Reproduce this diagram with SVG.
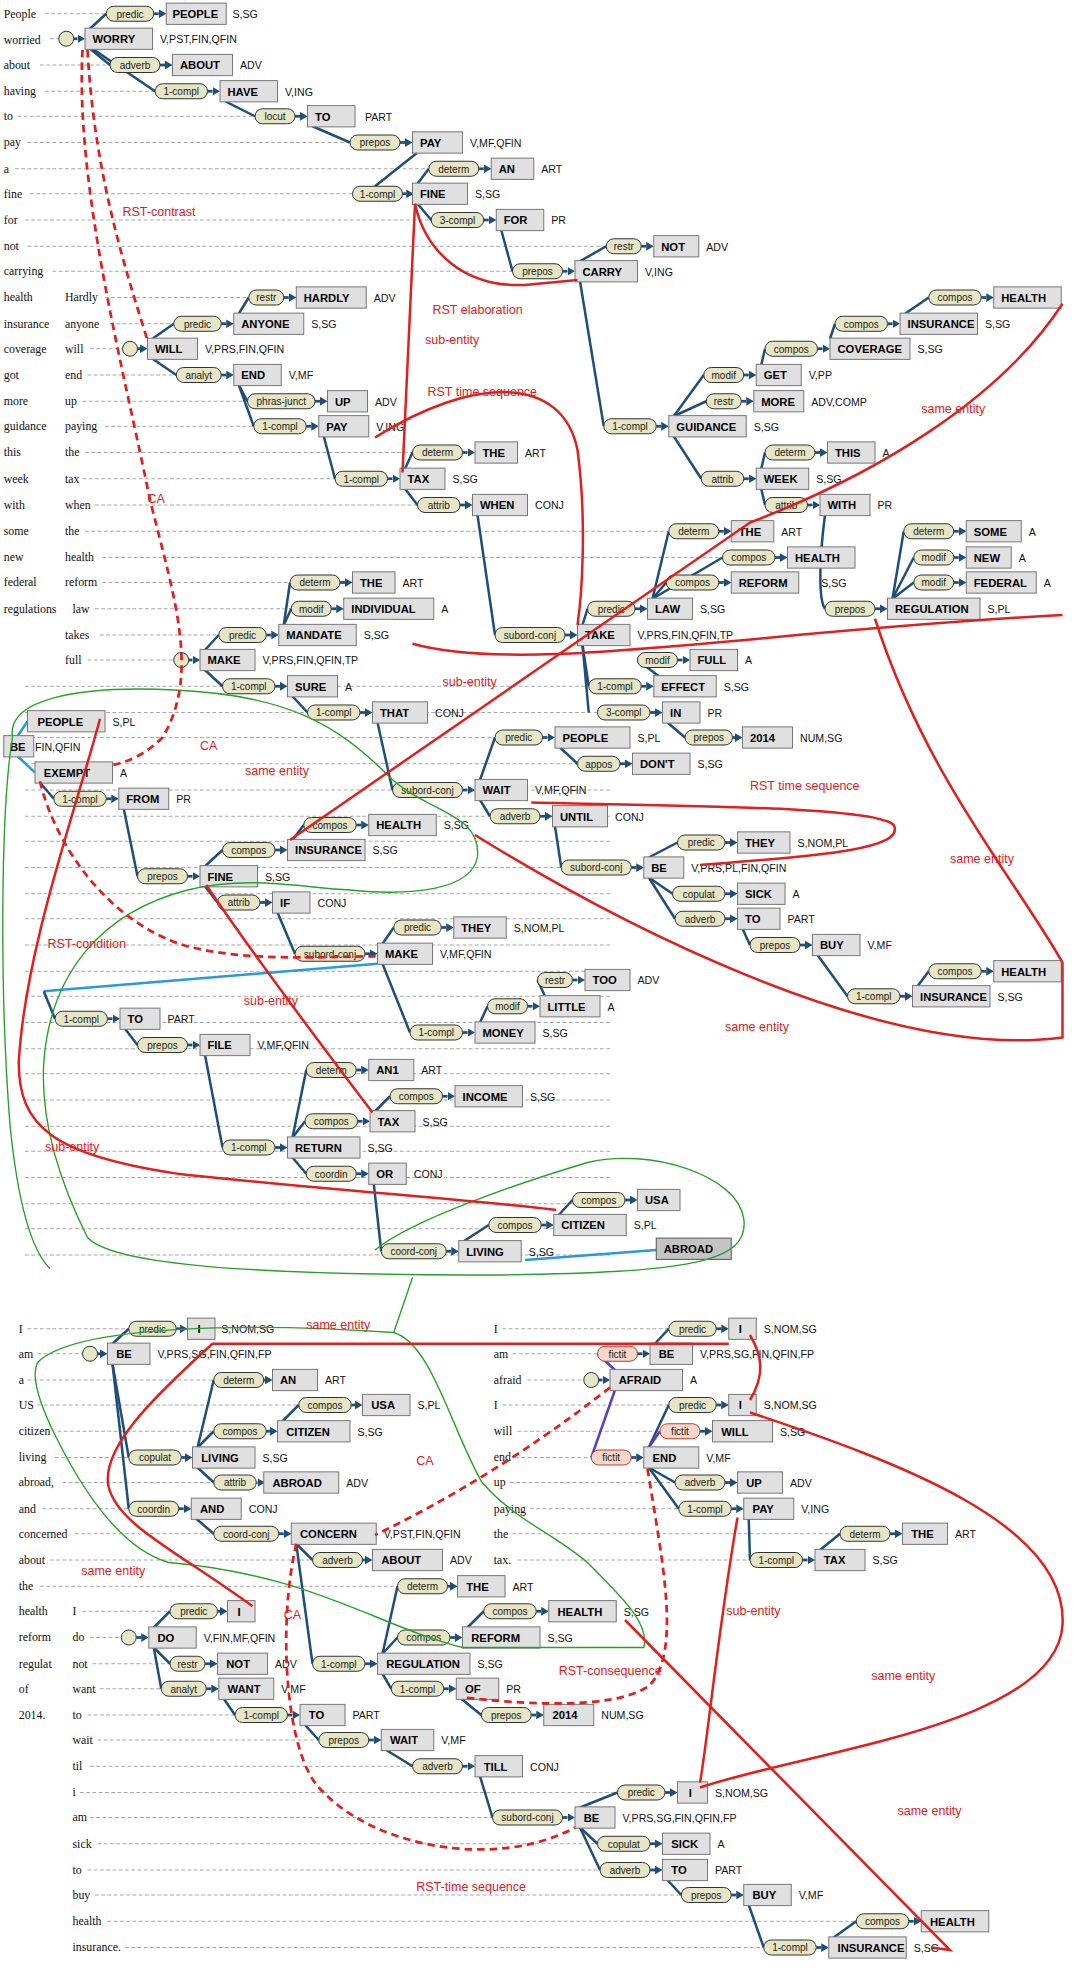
<svg xmlns="http://www.w3.org/2000/svg" width="1076" height="1969" viewBox="0 0 1076 1969">
<style>
.p{fill:#e6e6c6;stroke:#333;stroke-width:.8}
.pf{fill:#f6d8c8;stroke:#c33;stroke-width:.8}
.pt{font:8px 'Liberation Sans',sans-serif;text-anchor:middle;fill:#222}
.b{fill:#e0e0e0;stroke:#777;stroke-width:.8}
.bt{font:bold 9px 'Liberation Sans',sans-serif;fill:#000}
.t{font:8.5px 'Liberation Sans',sans-serif;fill:#111}
.w{font:9.5px 'Liberation Serif',serif;fill:#111}
.a{stroke:#1f4e79;stroke-width:2.2;marker-end:url(#ah)}
.e path{stroke:#1f4e79;stroke-width:2;fill:none}
.pu{stroke:#5a3fc0 !important}
.lb{stroke:#2a9ad8 !important}
.r{stroke:#e02020;stroke-width:2;fill:none}
.rd{stroke:#e02020;stroke-width:2.2;fill:none;stroke-dasharray:6,4}
.g{stroke:#2aa02a;stroke-width:1.1;fill:none}
.rl{font:10px 'Liberation Sans',sans-serif;fill:#e02020}
.d line{stroke:#999;stroke-width:.7;stroke-dasharray:3,2}
.c{fill:#e6e6c6;stroke:#333;stroke-width:.8}
</style>
<defs><marker id="ah" markerWidth="6" markerHeight="7" refX="0" refY="3.5" orient="auto" markerUnits="userSpaceOnUse"><path d="M0,0 L6,3.5 L0,7z" fill="#1f4e79"/></marker></defs>
<rect width="1076" height="1969" fill="#fff"/>
<g transform="scale(1.25)">
<g id="words">
<text class="w" x="3" y="14">People</text><text class="w" x="3" y="35">worried</text><text class="w" x="3" y="55">about</text><text class="w" x="3" y="76">having</text><text class="w" x="3" y="96">to</text><text class="w" x="3" y="117">pay</text><text class="w" x="3" y="138">a</text><text class="w" x="3" y="158">fine</text><text class="w" x="3" y="179">for</text><text class="w" x="3" y="200">not</text><text class="w" x="3" y="220">carrying</text><text class="w" x="3" y="241">health</text><text class="w" x="3" y="262">insurance</text><text class="w" x="3" y="282">coverage</text><text class="w" x="3" y="303">got</text><text class="w" x="3" y="324">more</text><text class="w" x="3" y="344">guidance</text><text class="w" x="3" y="365">this</text><text class="w" x="3" y="386">week</text><text class="w" x="3" y="407">with</text><text class="w" x="3" y="428">some</text><text class="w" x="3" y="449">new</text><text class="w" x="3" y="469">federal</text><text class="w" x="3" y="490">regulations</text>
<text class="w" x="52" y="241">Hardly</text><text class="w" x="52" y="262">anyone</text><text class="w" x="52" y="282">will</text><text class="w" x="52" y="303">end</text><text class="w" x="52" y="324">up</text><text class="w" x="52" y="344">paying</text><text class="w" x="52" y="365">the</text><text class="w" x="52" y="386">tax</text><text class="w" x="52" y="407">when</text><text class="w" x="52" y="428">the</text><text class="w" x="52" y="449">health</text><text class="w" x="52" y="469">reform</text><text class="w" x="58" y="490">law</text><text class="w" x="52" y="511">takes</text><text class="w" x="52" y="531">full</text>
<text class="w" x="15" y="1066">I</text><text class="w" x="15" y="1086">am</text><text class="w" x="15" y="1107">a</text><text class="w" x="15" y="1127">US</text><text class="w" x="15" y="1148">citizen</text><text class="w" x="15" y="1169">living</text><text class="w" x="15" y="1189">abroad,</text><text class="w" x="15" y="1210">and</text><text class="w" x="15" y="1230">concerned</text><text class="w" x="15" y="1251">about</text><text class="w" x="15" y="1272">the</text><text class="w" x="15" y="1292">health</text><text class="w" x="15" y="1313">reform</text><text class="w" x="15" y="1334">regulat</text><text class="w" x="15" y="1354">of</text><text class="w" x="15" y="1375">2014.</text>
<text class="w" x="58" y="1292">I</text><text class="w" x="58" y="1313">do</text><text class="w" x="58" y="1334">not</text><text class="w" x="58" y="1354">want</text><text class="w" x="58" y="1375">to</text><text class="w" x="58" y="1395">wait</text><text class="w" x="58" y="1416">til</text><text class="w" x="58" y="1437">i</text><text class="w" x="58" y="1457">am</text><text class="w" x="58" y="1478">sick</text><text class="w" x="58" y="1499">to</text><text class="w" x="58" y="1519">buy</text><text class="w" x="58" y="1540">health</text><text class="w" x="58" y="1561">insurance.</text>
<text class="w" x="395" y="1066">I</text><text class="w" x="395" y="1086">am</text><text class="w" x="395" y="1107">afraid</text><text class="w" x="395" y="1127">I</text><text class="w" x="395" y="1148">will</text><text class="w" x="395" y="1169">end</text><text class="w" x="395" y="1189">up</text><text class="w" x="395" y="1210">paying</text><text class="w" x="395" y="1230">the</text><text class="w" x="395" y="1251">tax.</text>
</g>
<g class="d">
<line x1="36" y1="11" x2="85" y2="11"/><line x1="40" y1="31" x2="47" y2="31"/><line x1="32" y1="52" x2="88" y2="52"/><line x1="36" y1="73" x2="124" y2="73"/><line x1="14" y1="93" x2="204" y2="93"/><line x1="22" y1="114" x2="280" y2="114"/><line x1="12" y1="135" x2="343" y2="135"/><line x1="24" y1="155" x2="282" y2="155"/><line x1="20" y1="176" x2="345" y2="176"/><line x1="22" y1="197" x2="485" y2="197"/><line x1="42" y1="217" x2="410" y2="217"/>
<line x1="84" y1="238" x2="199" y2="238"/><line x1="88" y1="259" x2="139" y2="259"/><line x1="72" y1="279" x2="98" y2="279"/><line x1="70" y1="300" x2="141" y2="300"/><line x1="66" y1="321" x2="198" y2="321"/><line x1="84" y1="341" x2="203" y2="341"/><line x1="68" y1="362" x2="330" y2="362"/><line x1="66" y1="383" x2="268" y2="383"/><line x1="76" y1="404" x2="334" y2="404"/><line x1="68" y1="425" x2="535" y2="425"/><line x1="82" y1="446" x2="578" y2="446"/><line x1="82" y1="466" x2="232" y2="466"/><line x1="76" y1="487" x2="233" y2="487"/><line x1="80" y1="508" x2="175" y2="508"/><line x1="70" y1="528" x2="139" y2="528"/>
<line x1="20" y1="549" x2="490" y2="549"/><line x1="20" y1="570" x2="490" y2="570"/><line x1="20" y1="590" x2="490" y2="590"/><line x1="20" y1="611" x2="490" y2="611"/><line x1="20" y1="632" x2="490" y2="632"/><line x1="20" y1="653" x2="490" y2="653"/><line x1="20" y1="673" x2="490" y2="673"/><line x1="20" y1="694" x2="490" y2="694"/><line x1="20" y1="715" x2="490" y2="715"/><line x1="20" y1="735" x2="490" y2="735"/><line x1="20" y1="756" x2="490" y2="756"/><line x1="20" y1="777" x2="490" y2="777"/><line x1="20" y1="797" x2="490" y2="797"/><line x1="20" y1="818" x2="490" y2="818"/><line x1="20" y1="839" x2="490" y2="839"/><line x1="20" y1="859" x2="490" y2="859"/><line x1="20" y1="880" x2="490" y2="880"/><line x1="20" y1="901" x2="490" y2="901"/><line x1="20" y1="921" x2="490" y2="921"/><line x1="20" y1="942" x2="490" y2="942"/><line x1="20" y1="963" x2="490" y2="963"/><line x1="20" y1="983" x2="490" y2="983"/><line x1="20" y1="1004" x2="490" y2="1004"/>
<line x1="22" y1="1063" x2="103" y2="1063"/><line x1="30" y1="1083" x2="66" y2="1083"/><line x1="22" y1="1104" x2="171" y2="1104"/><line x1="30" y1="1124" x2="239" y2="1124"/><line x1="46" y1="1145" x2="171" y2="1145"/><line x1="44" y1="1166" x2="103" y2="1166"/><line x1="50" y1="1186" x2="171" y2="1186"/><line x1="34" y1="1207" x2="103" y2="1207"/><line x1="60" y1="1227" x2="171" y2="1227"/><line x1="40" y1="1248" x2="250" y2="1248"/><line x1="32" y1="1269" x2="318" y2="1269"/><line x1="66" y1="1289" x2="136" y2="1289"/><line x1="72" y1="1310" x2="97" y2="1310"/><line x1="74" y1="1331" x2="136" y2="1331"/><line x1="80" y1="1351" x2="129" y2="1351"/><line x1="70" y1="1372" x2="188" y2="1372"/><line x1="78" y1="1392" x2="255" y2="1392"/><line x1="72" y1="1413" x2="330" y2="1413"/><line x1="64" y1="1434" x2="494" y2="1434"/><line x1="72" y1="1454" x2="394" y2="1454"/><line x1="78" y1="1475" x2="478" y2="1475"/><line x1="70" y1="1496" x2="480" y2="1496"/><line x1="76" y1="1516" x2="545" y2="1516"/><line x1="86" y1="1537" x2="685" y2="1537"/><line x1="100" y1="1558" x2="611" y2="1558"/>
<line x1="402" y1="1063" x2="535" y2="1063"/><line x1="410" y1="1083" x2="478" y2="1083"/><line x1="422" y1="1104" x2="466" y2="1104"/><line x1="402" y1="1124" x2="535" y2="1124"/><line x1="414" y1="1145" x2="528" y2="1145"/><line x1="412" y1="1166" x2="473" y2="1166"/><line x1="408" y1="1186" x2="540" y2="1186"/><line x1="424" y1="1207" x2="543" y2="1207"/><line x1="410" y1="1227" x2="672" y2="1227"/><line x1="414" y1="1248" x2="600" y2="1248"/>
</g>
<g id="connectors" class="e">
<path d="M72,23 L85,11"/><path d="M72,39 L88,52"/><path d="M74,39 L124,73"/><path d="M180,81 L204,93"/><path d="M250,101 L280,114"/><path d="M334,122 L300,149"/><path d="M334,147 L343,135"/><path d="M334,163 L345,176"/><path d="M401,184 L410,217"/><path d="M464,209 L485,197"/><path d="M464,225 L483,341"/>
<path d="M539,333 L563,300"/><path d="M539,333 L565,321"/><path d="M539,349 L561,383"/><path d="M609,292 L612,279"/><path d="M664,271 L668,259"/><path d="M724,251 L743,238"/><path d="M609,375 L612,362"/><path d="M609,391 L612,404"/><path d="M660,412 C655,450 655,480 660,487"/><path d="M714,479 L723,425"/><path d="M714,479 L731,446"/><path d="M714,479 L731,466"/>
<path d="M122,271 L139,259"/><path d="M122,287 L141,300"/><path d="M191,251 L199,238"/><path d="M191,308 L198,321"/><path d="M191,308 L203,341"/><path d="M259,349 L268,383"/><path d="M324,375 L330,362"/><path d="M324,391 L334,404"/><path d="M382,412 L396,508"/><path d="M466,500 L470,487"/><path d="M466,516 L471,549"/><path d="M466,516 L471,570"/><path d="M522,479 L535,425"/><path d="M522,479 L533,466"/><path d="M522,479 L578,446"/><path d="M527,541 L510,528"/><path d="M534,578 L548,590"/>
<path d="M164,520 L175,508"/><path d="M164,536 L178,549"/><path d="M227,500 L232,466"/><path d="M227,500 L233,487"/><path d="M234,557 L246,570"/><path d="M302,578 L314,632"/><path d="M384,624 L396,590"/><path d="M384,640 L392,653"/><path d="M448,598 L462,611"/><path d="M444,661 L449,694"/><path d="M519,686 L542,674"/><path d="M519,702 L538,715"/><path d="M519,702 L540,735"/><path d="M594,743 L600,756"/><path d="M654,764 L678,797"/><path d="M734,789 L743,777"/>
<path class="lb" d="M14,589 L22,577"/><path class="lb" d="M14,605 L28,618"/><path d="M32,626 L43,639"/><path d="M99,647 L110,701"/><path d="M164,693 L178,680"/><path d="M164,709 L174,722"/><path d="M234,672 L243,660"/><path d="M222,730 L236,763"/><path d="M306,755 L315,742"/><path d="M306,771 L328,826"/><path d="M384,818 L390,805"/><path d="M436,797 L430,784"/><path class="lb" d="M302,771 L35,793"/><path d="M35,793 L44,815"/><path d="M100,823 L110,836"/><path d="M164,844 L178,918"/><path d="M234,910 L245,856"/><path d="M234,910 L244,897"/><path d="M234,926 L245,939"/><path d="M300,889 L312,877"/><path d="M299,947 L305,1001"/><path d="M371,993 L391,980"/><path d="M447,972 L458,960"/><path class="lb" d="M420,1008 L525,1000"/>
<path d="M90,1075 L103,1063"/><path d="M90,1091 L103,1166"/><path d="M90,1091 L103,1207"/><path d="M158,1158 L171,1104"/><path d="M158,1158 L171,1145"/><path d="M158,1174 L171,1186"/><path d="M226,1137 L239,1124"/><path d="M157,1215 L171,1227"/><path d="M237,1235 L250,1248"/><path d="M237,1235 L250,1331"/><path d="M306,1323 L318,1269"/><path d="M306,1323 L318,1310"/><path d="M306,1339 L313,1351"/><path d="M374,1302 L387,1289"/><path d="M369,1359 L385,1372"/>
<path d="M123,1302 L136,1289"/><path d="M123,1318 L136,1331"/><path d="M123,1318 L129,1351"/><path d="M179,1359 L188,1372"/><path d="M244,1380 L255,1392"/><path d="M309,1400 L330,1413"/><path d="M384,1421 L394,1454"/><path d="M464,1446 L494,1434"/><path d="M464,1462 L478,1475"/><path d="M464,1462 L480,1496"/><path d="M534,1504 L545,1516"/><path d="M599,1524 L611,1558"/><path d="M667,1550 L685,1537"/>
<path d="M524,1075 L535,1063"/><path class="pu" d="M492,1096 L478,1083"/><path class="pu" d="M492,1112 L473,1166"/><path d="M519,1158 L535,1124"/><path class="pu" d="M519,1158 L528,1145"/><path d="M519,1174 L540,1186"/><path d="M519,1174 L543,1207"/><path d="M599,1215 L600,1248"/><path d="M656,1240 L672,1227"/>
</g>
<g id="nodes">
<g id="n1"><rect class="p" x="85" y="5" width="38" height="12" rx="6"/><text class="pt" x="104" y="14">predic</text><line class="a" x1="123" y1="11" x2="127" y2="11"/><rect class="b" x="133" y="2.5" width="48" height="17"/><text class="bt" x="138" y="14.5">PEOPLE</text><text class="t" x="186" y="14.5">S,SG</text></g>
<g id="n2"><circle class="c" cx="53" cy="31" r="6"/><line class="a" x1="59" y1="31" x2="62" y2="31"/><rect class="b" x="68" y="22.5" width="54" height="17"/><text class="bt" x="74" y="34.5">WORRY</text><text class="t" x="128" y="34.5">V,PST,FIN,QFIN</text></g>
<g id="n3"><rect class="p" x="88" y="46" width="40" height="12" rx="6"/><text class="pt" x="108" y="55">adverb</text><line class="a" x1="128" y1="52" x2="132" y2="52"/><rect class="b" x="138" y="43.5" width="48" height="17"/><text class="bt" x="144" y="55.5">ABOUT</text><text class="t" x="192" y="55.5">ADV</text></g>
<g id="n4"><rect class="p" x="124" y="67" width="42" height="12" rx="6"/><text class="pt" x="145" y="76">1-compl</text><line class="a" x1="166" y1="73" x2="170" y2="73"/><rect class="b" x="176" y="64.5" width="46" height="17"/><text class="bt" x="182" y="76.5">HAVE</text><text class="t" x="228" y="76.5">V,ING</text></g>
<g id="n5"><rect class="p" x="204" y="87" width="32" height="12" rx="6"/><text class="pt" x="220" y="96">locut</text><line class="a" x1="236" y1="93" x2="240" y2="93"/><rect class="b" x="246" y="84.5" width="38" height="17"/><text class="bt" x="252" y="96.5">TO</text><text class="t" x="292" y="96.5">PART</text></g>
<g id="n6"><rect class="p" x="280" y="108" width="40" height="12" rx="6"/><text class="pt" x="300" y="117">prepos</text><line class="a" x1="320" y1="114" x2="324" y2="114"/><rect class="b" x="330" y="105.5" width="40" height="17"/><text class="bt" x="336" y="117.5">PAY</text><text class="t" x="376" y="117.5">V,MF,QFIN</text></g>
<g id="n7"><rect class="p" x="343" y="129" width="40" height="12" rx="6"/><text class="pt" x="363" y="138">determ</text><line class="a" x1="383" y1="135" x2="387" y2="135"/><rect class="b" x="393" y="126.5" width="34" height="17"/><text class="bt" x="399" y="138.5">AN</text><text class="t" x="433" y="138.5">ART</text></g>
<g id="n8"><rect class="p" x="282" y="149" width="40" height="12" rx="6"/><text class="pt" x="302" y="158">1-compl</text><line class="a" x1="322" y1="155" x2="325" y2="155"/><rect class="b" x="330" y="146.5" width="44" height="17"/><text class="bt" x="336" y="158.5">FINE</text><text class="t" x="380" y="158.5">S,SG</text></g>
<g id="n9"><rect class="p" x="345" y="170" width="42" height="12" rx="6"/><text class="pt" x="366" y="179">3-compl</text><line class="a" x1="387" y1="176" x2="391" y2="176"/><rect class="b" x="397" y="167.5" width="38" height="17"/><text class="bt" x="403" y="179.5">FOR</text><text class="t" x="441" y="179.5">PR</text></g>
<g id="n10"><rect class="p" x="485" y="191" width="28" height="12" rx="6"/><text class="pt" x="499" y="200">restr</text><line class="a" x1="513" y1="197" x2="517" y2="197"/><rect class="b" x="523" y="188.5" width="36" height="17"/><text class="bt" x="529" y="200.5">NOT</text><text class="t" x="565" y="200.5">ADV</text></g>
<g id="n11"><rect class="p" x="410" y="211" width="40" height="12" rx="6"/><text class="pt" x="430" y="220">prepos</text><line class="a" x1="450" y1="217" x2="454" y2="217"/><rect class="b" x="460" y="208.5" width="50" height="17"/><text class="bt" x="466" y="220.5">CARRY</text><text class="t" x="516" y="220.5">V,ING</text></g>
<g id="n12"><rect class="p" x="743" y="232" width="42" height="12" rx="6"/><text class="pt" x="764" y="241">compos</text><line class="a" x1="785" y1="238" x2="789" y2="238"/><rect class="b" x="795" y="229.5" width="54" height="17"/><text class="bt" x="801" y="241.5">HEALTH</text></g>
<g id="n13"><rect class="p" x="199" y="232" width="28" height="12" rx="6"/><text class="pt" x="213" y="241">restr</text><line class="a" x1="227" y1="238" x2="231" y2="238"/><rect class="b" x="237" y="229.5" width="56" height="17"/><text class="bt" x="243" y="241.5">HARDLY</text><text class="t" x="299" y="241.5">ADV</text></g>
<g id="n14"><rect class="p" x="139" y="253" width="38" height="12" rx="6"/><text class="pt" x="158" y="262">predic</text><line class="a" x1="177" y1="259" x2="181" y2="259"/><rect class="b" x="187" y="250.5" width="56" height="17"/><text class="bt" x="193" y="262.5">ANYONE</text><text class="t" x="249" y="262.5">S,SG</text></g>
<g id="n15"><rect class="p" x="668" y="253" width="42" height="12" rx="6"/><text class="pt" x="689" y="262">compos</text><line class="a" x1="710" y1="259" x2="714" y2="259"/><rect class="b" x="720" y="250.5" width="62" height="17"/><text class="bt" x="726" y="262.5">INSURANCE</text><text class="t" x="788" y="262.5">S,SG</text></g>
<g id="n16"><circle class="c" cx="104" cy="279" r="6"/><line class="a" x1="110" y1="279" x2="112" y2="279"/><rect class="b" x="118" y="270.5" width="40" height="17"/><text class="bt" x="124" y="282.5">WILL</text><text class="t" x="164" y="282.5">V,PRS,FIN,QFIN</text></g>
<g id="n17"><rect class="p" x="612" y="273" width="42" height="12" rx="6"/><text class="pt" x="633" y="282">compos</text><line class="a" x1="654" y1="279" x2="658" y2="279"/><rect class="b" x="664" y="270.5" width="64" height="17"/><text class="bt" x="670" y="282.5">COVERAGE</text><text class="t" x="734" y="282.5">S,SG</text></g>
<g id="n18"><rect class="p" x="141" y="294" width="36" height="12" rx="6"/><text class="pt" x="159" y="303">analyt</text><line class="a" x1="177" y1="300" x2="181" y2="300"/><rect class="b" x="187" y="291.5" width="38" height="17"/><text class="bt" x="193" y="303.5">END</text><text class="t" x="231" y="303.5">V,MF</text></g>
<g id="n19"><rect class="p" x="563" y="294" width="32" height="12" rx="6"/><text class="pt" x="579" y="303">modif</text><line class="a" x1="595" y1="300" x2="599" y2="300"/><rect class="b" x="605" y="291.5" width="36" height="17"/><text class="bt" x="611" y="303.5">GET</text><text class="t" x="647" y="303.5">V,PP</text></g>
<g id="n20"><rect class="p" x="198" y="315" width="54" height="12" rx="6"/><text class="pt" x="225" y="324">phras-junct</text><line class="a" x1="252" y1="321" x2="256" y2="321"/><rect class="b" x="262" y="312.5" width="32" height="17"/><text class="bt" x="268" y="324.5">UP</text><text class="t" x="300" y="324.5">ADV</text></g>
<g id="n21"><rect class="p" x="565" y="315" width="28" height="12" rx="6"/><text class="pt" x="579" y="324">restr</text><line class="a" x1="593" y1="321" x2="597" y2="321"/><rect class="b" x="603" y="312.5" width="40" height="17"/><text class="bt" x="609" y="324.5">MORE</text><text class="t" x="649" y="324.5">ADV,COMP</text></g>
<g id="n22"><rect class="p" x="203" y="335" width="42" height="12" rx="6"/><text class="pt" x="224" y="344">1-compl</text><line class="a" x1="245" y1="341" x2="249" y2="341"/><rect class="b" x="255" y="332.5" width="40" height="17"/><text class="bt" x="261" y="344.5">PAY</text><text class="t" x="301" y="344.5">V,ING</text></g>
<g id="n23"><rect class="p" x="483" y="335" width="42" height="12" rx="6"/><text class="pt" x="504" y="344">1-compl</text><line class="a" x1="525" y1="341" x2="529" y2="341"/><rect class="b" x="535" y="332.5" width="62" height="17"/><text class="bt" x="541" y="344.5">GUIDANCE</text><text class="t" x="603" y="344.5">S,SG</text></g>
<g id="n24"><rect class="p" x="330" y="356" width="40" height="12" rx="6"/><text class="pt" x="350" y="365">determ</text><line class="a" x1="370" y1="362" x2="374" y2="362"/><rect class="b" x="380" y="353.5" width="34" height="17"/><text class="bt" x="386" y="365.5">THE</text><text class="t" x="420" y="365.5">ART</text></g>
<g id="n25"><rect class="p" x="612" y="356" width="40" height="12" rx="6"/><text class="pt" x="632" y="365">determ</text><line class="a" x1="652" y1="362" x2="656" y2="362"/><rect class="b" x="662" y="353.5" width="38" height="17"/><text class="bt" x="668" y="365.5">THIS</text><text class="t" x="706" y="365.5">A</text></g>
<g id="n26"><rect class="p" x="268" y="377" width="42" height="12" rx="6"/><text class="pt" x="289" y="386">1-compl</text><line class="a" x1="310" y1="383" x2="314" y2="383"/><rect class="b" x="320" y="374.5" width="36" height="17"/><text class="bt" x="326" y="386.5">TAX</text><text class="t" x="362" y="386.5">S,SG</text></g>
<g id="n27"><rect class="p" x="561" y="377" width="34" height="12" rx="6"/><text class="pt" x="578" y="386">attrib</text><line class="a" x1="595" y1="383" x2="599" y2="383"/><rect class="b" x="605" y="374.5" width="42" height="17"/><text class="bt" x="611" y="386.5">WEEK</text><text class="t" x="653" y="386.5">S,SG</text></g>
<g id="n28"><rect class="p" x="334" y="398" width="34" height="12" rx="6"/><text class="pt" x="351" y="407">attrib</text><line class="a" x1="368" y1="404" x2="372" y2="404"/><rect class="b" x="378" y="395.5" width="44" height="17"/><text class="bt" x="384" y="407.5">WHEN</text><text class="t" x="428" y="407.5">CONJ</text></g>
<g id="n29"><rect class="p" x="612" y="398" width="34" height="12" rx="6"/><text class="pt" x="629" y="407">attrib</text><line class="a" x1="646" y1="404" x2="650" y2="404"/><rect class="b" x="656" y="395.5" width="40" height="17"/><text class="bt" x="662" y="407.5">WITH</text><text class="t" x="702" y="407.5">PR</text></g>
<g id="n30"><rect class="p" x="535" y="419" width="40" height="12" rx="6"/><text class="pt" x="555" y="428">determ</text><line class="a" x1="575" y1="425" x2="579" y2="425"/><rect class="b" x="585" y="416.5" width="34" height="17"/><text class="bt" x="591" y="428.5">THE</text><text class="t" x="625" y="428.5">ART</text></g>
<g id="n31"><rect class="p" x="723" y="419" width="40" height="12" rx="6"/><text class="pt" x="743" y="428">determ</text><line class="a" x1="763" y1="425" x2="767" y2="425"/><rect class="b" x="773" y="416.5" width="44" height="17"/><text class="bt" x="779" y="428.5">SOME</text><text class="t" x="823" y="428.5">A</text></g>
<g id="n32"><rect class="p" x="578" y="440" width="42" height="12" rx="6"/><text class="pt" x="599" y="449">compos</text><line class="a" x1="620" y1="446" x2="624" y2="446"/><rect class="b" x="630" y="437.5" width="54" height="17"/><text class="bt" x="636" y="449.5">HEALTH</text><text class="t" x="657" y="469.5">S,SG</text></g>
<g id="n33"><rect class="p" x="731" y="440" width="32" height="12" rx="6"/><text class="pt" x="747" y="449">modif</text><line class="a" x1="763" y1="446" x2="767" y2="446"/><rect class="b" x="773" y="437.5" width="36" height="17"/><text class="bt" x="779" y="449.5">NEW</text><text class="t" x="815" y="449.5">A</text></g>
<g id="n34"><rect class="p" x="232" y="460" width="40" height="12" rx="6"/><text class="pt" x="252" y="469">determ</text><line class="a" x1="272" y1="466" x2="276" y2="466"/><rect class="b" x="282" y="457.5" width="34" height="17"/><text class="bt" x="288" y="469.5">THE</text><text class="t" x="322" y="469.5">ART</text></g>
<g id="n35"><rect class="p" x="533" y="460" width="42" height="12" rx="6"/><text class="pt" x="554" y="469">compos</text><line class="a" x1="575" y1="466" x2="579" y2="466"/><rect class="b" x="585" y="457.5" width="54" height="17"/><text class="bt" x="591" y="469.5">REFORM</text></g>
<g id="n36"><rect class="p" x="731" y="460" width="32" height="12" rx="6"/><text class="pt" x="747" y="469">modif</text><line class="a" x1="763" y1="466" x2="767" y2="466"/><rect class="b" x="773" y="457.5" width="56" height="17"/><text class="bt" x="779" y="469.5">FEDERAL</text><text class="t" x="835" y="469.5">A</text></g>
<g id="n37"><rect class="p" x="233" y="481" width="32" height="12" rx="6"/><text class="pt" x="249" y="490">modif</text><line class="a" x1="265" y1="487" x2="269" y2="487"/><rect class="b" x="275" y="478.5" width="72" height="17"/><text class="bt" x="281" y="490.5">INDIVIDUAL</text><text class="t" x="353" y="490.5">A</text></g>
<g id="n38"><rect class="p" x="470" y="481" width="38" height="12" rx="6"/><text class="pt" x="489" y="490">predic</text><line class="a" x1="508" y1="487" x2="512" y2="487"/><rect class="b" x="518" y="478.5" width="36" height="17"/><text class="bt" x="524" y="490.5">LAW</text><text class="t" x="560" y="490.5">S,SG</text></g>
<g id="n39"><rect class="p" x="660" y="481" width="40" height="12" rx="6"/><text class="pt" x="680" y="490">prepos</text><line class="a" x1="700" y1="487" x2="704" y2="487"/><rect class="b" x="710" y="478.5" width="74" height="17"/><text class="bt" x="716" y="490.5">REGULATION</text><text class="t" x="790" y="490.5">S,PL</text></g>
<g id="n40"><rect class="p" x="175" y="502" width="38" height="12" rx="6"/><text class="pt" x="194" y="511">predic</text><line class="a" x1="213" y1="508" x2="217" y2="508"/><rect class="b" x="223" y="499.5" width="62" height="17"/><text class="bt" x="229" y="511.5">MANDATE</text><text class="t" x="291" y="511.5">S,SG</text></g>
<g id="n41"><rect class="p" x="396" y="502" width="56" height="12" rx="6"/><text class="pt" x="424" y="511">subord-conj</text><line class="a" x1="452" y1="508" x2="456" y2="508"/><rect class="b" x="462" y="499.5" width="42" height="17"/><text class="bt" x="468" y="511.5">TAKE</text><text class="t" x="510" y="511.5">V,PRS,FIN,QFIN,TP</text></g>
<g id="n42"><circle class="c" cx="145" cy="528" r="6"/><line class="a" x1="151" y1="528" x2="154" y2="528"/><rect class="b" x="160" y="519.5" width="44" height="17"/><text class="bt" x="166" y="531.5">MAKE</text><text class="t" x="210" y="531.5">V,PRS,FIN,QFIN,TP</text></g>
<g id="n43"><rect class="p" x="510" y="522" width="32" height="12" rx="6"/><text class="pt" x="526" y="531">modif</text><line class="a" x1="542" y1="528" x2="546" y2="528"/><rect class="b" x="552" y="519.5" width="38" height="17"/><text class="bt" x="558" y="531.5">FULL</text><text class="t" x="596" y="531.5">A</text></g>
<g id="n44"><rect class="p" x="178" y="543" width="42" height="12" rx="6"/><text class="pt" x="199" y="552">1-compl</text><line class="a" x1="220" y1="549" x2="224" y2="549"/><rect class="b" x="230" y="540.5" width="40" height="17"/><text class="bt" x="236" y="552.5">SURE</text><text class="t" x="276" y="552.5">A</text></g>
<g id="n45"><rect class="p" x="471" y="543" width="42" height="12" rx="6"/><text class="pt" x="492" y="552">1-compl</text><line class="a" x1="513" y1="549" x2="517" y2="549"/><rect class="b" x="523" y="540.5" width="50" height="17"/><text class="bt" x="529" y="552.5">EFFECT</text><text class="t" x="579" y="552.5">S,SG</text></g>
<g id="n46"><rect class="p" x="246" y="564" width="42" height="12" rx="6"/><text class="pt" x="267" y="573">1-compl</text><line class="a" x1="288" y1="570" x2="292" y2="570"/><rect class="b" x="298" y="561.5" width="44" height="17"/><text class="bt" x="304" y="573.5">THAT</text><text class="t" x="348" y="573.5">CONJ</text></g>
<g id="n47"><rect class="p" x="478" y="564" width="42" height="12" rx="6"/><text class="pt" x="499" y="573">3-compl</text><line class="a" x1="520" y1="570" x2="524" y2="570"/><rect class="b" x="530" y="561.5" width="30" height="17"/><text class="bt" x="536" y="573.5">IN</text><text class="t" x="566" y="573.5">PR</text></g>
<g id="n48"><rect class="p" x="396" y="584" width="38" height="12" rx="6"/><text class="pt" x="415" y="593">predic</text><line class="a" x1="434" y1="590" x2="438" y2="590"/><rect class="b" x="444" y="581.5" width="60" height="17"/><text class="bt" x="450" y="593.5">PEOPLE</text><text class="t" x="510" y="593.5">S,PL</text></g>
<g id="n49"><rect class="p" x="548" y="584" width="38" height="12" rx="6"/><text class="pt" x="567" y="593">prepos</text><line class="a" x1="586" y1="590" x2="588" y2="590"/><rect class="b" x="594" y="581.5" width="40" height="17"/><text class="bt" x="600" y="593.5">2014</text><text class="t" x="640" y="593.5">NUM,SG</text></g>
<g id="n50"><rect class="p" x="462" y="605" width="34" height="12" rx="6"/><text class="pt" x="479" y="614">appos</text><line class="a" x1="496" y1="611" x2="500" y2="611"/><rect class="b" x="506" y="602.5" width="46" height="17"/><text class="bt" x="512" y="614.5">DON'T</text><text class="t" x="558" y="614.5">S,SG</text></g>
<g id="n51"><rect class="p" x="314" y="626" width="56" height="12" rx="6"/><text class="pt" x="342" y="635">subord-conj</text><line class="a" x1="370" y1="632" x2="374" y2="632"/><rect class="b" x="380" y="623.5" width="42" height="17"/><text class="bt" x="386" y="635.5">WAIT</text><text class="t" x="428" y="635.5">V,MF,QFIN</text></g>
<g id="n52"><rect class="p" x="392" y="647" width="40" height="12" rx="6"/><text class="pt" x="412" y="656">adverb</text><line class="a" x1="432" y1="653" x2="436" y2="653"/><rect class="b" x="442" y="644.5" width="44" height="17"/><text class="bt" x="448" y="656.5">UNTIL</text><text class="t" x="492" y="656.5">CONJ</text></g>
<g id="n53"><rect class="p" x="542" y="668" width="38" height="12" rx="6"/><text class="pt" x="561" y="677">predic</text><line class="a" x1="580" y1="674" x2="584" y2="674"/><rect class="b" x="590" y="665.5" width="42" height="17"/><text class="bt" x="596" y="677.5">THEY</text><text class="t" x="638" y="677.5">S,NOM,PL</text></g>
<g id="n54"><rect class="p" x="449" y="688" width="56" height="12" rx="6"/><text class="pt" x="477" y="697">subord-conj</text><line class="a" x1="505" y1="694" x2="509" y2="694"/><rect class="b" x="515" y="685.5" width="32" height="17"/><text class="bt" x="521" y="697.5">BE</text><text class="t" x="553" y="697.5">V,PRS,PL,FIN,QFIN</text></g>
<g id="n55"><rect class="p" x="538" y="709" width="42" height="12" rx="6"/><text class="pt" x="559" y="718">copulat</text><line class="a" x1="580" y1="715" x2="584" y2="715"/><rect class="b" x="590" y="706.5" width="38" height="17"/><text class="bt" x="596" y="718.5">SICK</text><text class="t" x="634" y="718.5">A</text></g>
<g id="n56"><rect class="p" x="540" y="729" width="40" height="12" rx="6"/><text class="pt" x="560" y="738">adverb</text><line class="a" x1="580" y1="735" x2="584" y2="735"/><rect class="b" x="590" y="726.5" width="34" height="17"/><text class="bt" x="596" y="738.5">TO</text><text class="t" x="630" y="738.5">PART</text></g>
<g id="n57"><rect class="p" x="600" y="750" width="40" height="12" rx="6"/><text class="pt" x="620" y="759">prepos</text><line class="a" x1="640" y1="756" x2="644" y2="756"/><rect class="b" x="650" y="747.5" width="38" height="17"/><text class="bt" x="656" y="759.5">BUY</text><text class="t" x="694" y="759.5">V,MF</text></g>
<g id="n58"><rect class="p" x="743" y="771" width="42" height="12" rx="6"/><text class="pt" x="764" y="780">compos</text><line class="a" x1="785" y1="777" x2="789" y2="777"/><rect class="b" x="795" y="768.5" width="54" height="17"/><text class="bt" x="801" y="780.5">HEALTH</text></g>
<g id="n59"><rect class="p" x="678" y="791" width="42" height="12" rx="6"/><text class="pt" x="699" y="800">1-compl</text><line class="a" x1="720" y1="797" x2="724" y2="797"/><rect class="b" x="730" y="788.5" width="62" height="17"/><text class="bt" x="736" y="800.5">INSURANCE</text><text class="t" x="798" y="800.5">S,SG</text></g>
<g id="n60"><rect class="b" x="22" y="568.5" width="62" height="17"/><text class="bt" x="30" y="580.5">PEOPLE</text><text class="t" x="90" y="580.5">S,PL</text></g>
<g id="n61"><rect class="b" x="3" y="588.5" width="24" height="17"/><text class="bt" x="8" y="600.5">BE</text><text class="t" x="28" y="600.5">FIN,QFIN</text></g>
<g id="n62"><rect class="b" x="28" y="609.5" width="62" height="17"/><text class="bt" x="35" y="621.5">EXEMPT</text><text class="t" x="96" y="621.5">A</text></g>
<g id="n63"><rect class="p" x="43" y="633" width="42" height="12" rx="6"/><text class="pt" x="64" y="642">1-compl</text><line class="a" x1="85" y1="639" x2="89" y2="639"/><rect class="b" x="95" y="630.5" width="40" height="17"/><text class="bt" x="101" y="642.5">FROM</text><text class="t" x="141" y="642.5">PR</text></g>
<g id="n64"><rect class="p" x="243" y="654" width="42" height="12" rx="6"/><text class="pt" x="264" y="663">compos</text><line class="a" x1="285" y1="660" x2="289" y2="660"/><rect class="b" x="295" y="651.5" width="54" height="17"/><text class="bt" x="301" y="663.5">HEALTH</text><text class="t" x="355" y="663.5">S,SG</text></g>
<g id="n65"><rect class="p" x="178" y="674" width="42" height="12" rx="6"/><text class="pt" x="199" y="683">compos</text><line class="a" x1="220" y1="680" x2="224" y2="680"/><rect class="b" x="230" y="671.5" width="62" height="17"/><text class="bt" x="236" y="683.5">INSURANCE</text><text class="t" x="298" y="683.5">S,SG</text></g>
<g id="n66"><rect class="p" x="110" y="695" width="40" height="12" rx="6"/><text class="pt" x="130" y="704">prepos</text><line class="a" x1="150" y1="701" x2="154" y2="701"/><rect class="b" x="160" y="692.5" width="46" height="17"/><text class="bt" x="166" y="704.5">FINE</text><text class="t" x="212" y="704.5">S,SG</text></g>
<g id="n67"><rect class="p" x="174" y="716" width="34" height="12" rx="6"/><text class="pt" x="191" y="725">attrib</text><line class="a" x1="208" y1="722" x2="212" y2="722"/><rect class="b" x="218" y="713.5" width="30" height="17"/><text class="bt" x="224" y="725.5">IF</text><text class="t" x="254" y="725.5">CONJ</text></g>
<g id="n68"><rect class="p" x="315" y="736" width="38" height="12" rx="6"/><text class="pt" x="334" y="745">predic</text><line class="a" x1="353" y1="742" x2="357" y2="742"/><rect class="b" x="363" y="733.5" width="42" height="17"/><text class="bt" x="369" y="745.5">THEY</text><text class="t" x="411" y="745.5">S,NOM,PL</text></g>
<g id="n69"><rect class="p" x="236" y="757" width="56" height="12" rx="6"/><text class="pt" x="264" y="766">subord-conj</text><line class="a" x1="292" y1="763" x2="296" y2="763"/><rect class="b" x="302" y="754.5" width="44" height="17"/><text class="bt" x="308" y="766.5">MAKE</text><text class="t" x="352" y="766.5">V,MF,QFIN</text></g>
<g id="n70"><rect class="p" x="430" y="778" width="28" height="12" rx="6"/><text class="pt" x="444" y="787">restr</text><line class="a" x1="458" y1="784" x2="462" y2="784"/><rect class="b" x="468" y="775.5" width="36" height="17"/><text class="bt" x="474" y="787.5">TOO</text><text class="t" x="510" y="787.5">ADV</text></g>
<g id="n71"><rect class="p" x="390" y="799" width="32" height="12" rx="6"/><text class="pt" x="406" y="808">modif</text><line class="a" x1="422" y1="805" x2="426" y2="805"/><rect class="b" x="432" y="796.5" width="48" height="17"/><text class="bt" x="438" y="808.5">LITTLE</text><text class="t" x="486" y="808.5">A</text></g>
<g id="n72"><rect class="p" x="44" y="809" width="42" height="12" rx="6"/><text class="pt" x="65" y="818">1-compl</text><line class="a" x1="86" y1="815" x2="90" y2="815"/><rect class="b" x="96" y="806.5" width="32" height="17"/><text class="bt" x="102" y="818.5">TO</text><text class="t" x="134" y="818.5">PART</text></g>
<g id="n73"><rect class="p" x="328" y="820" width="42" height="12" rx="6"/><text class="pt" x="349" y="829">1-compl</text><line class="a" x1="370" y1="826" x2="374" y2="826"/><rect class="b" x="380" y="817.5" width="48" height="17"/><text class="bt" x="386" y="829.5">MONEY</text><text class="t" x="434" y="829.5">S,SG</text></g>
<g id="n74"><rect class="p" x="110" y="830" width="40" height="12" rx="6"/><text class="pt" x="130" y="839">prepos</text><line class="a" x1="150" y1="836" x2="154" y2="836"/><rect class="b" x="160" y="827.5" width="40" height="17"/><text class="bt" x="166" y="839.5">FILE</text><text class="t" x="206" y="839.5">V,MF,QFIN</text></g>
<g id="n75"><rect class="p" x="245" y="850" width="40" height="12" rx="6"/><text class="pt" x="265" y="859">determ</text><line class="a" x1="285" y1="856" x2="289" y2="856"/><rect class="b" x="295" y="847.5" width="36" height="17"/><text class="bt" x="301" y="859.5">AN1</text><text class="t" x="337" y="859.5">ART</text></g>
<g id="n76"><rect class="p" x="312" y="871" width="42" height="12" rx="6"/><text class="pt" x="333" y="880">compos</text><line class="a" x1="354" y1="877" x2="358" y2="877"/><rect class="b" x="364" y="868.5" width="54" height="17"/><text class="bt" x="370" y="880.5">INCOME</text><text class="t" x="424" y="880.5">S,SG</text></g>
<g id="n77"><rect class="p" x="244" y="891" width="42" height="12" rx="6"/><text class="pt" x="265" y="900">compos</text><line class="a" x1="286" y1="897" x2="290" y2="897"/><rect class="b" x="296" y="888.5" width="36" height="17"/><text class="bt" x="302" y="900.5">TAX</text><text class="t" x="338" y="900.5">S,SG</text></g>
<g id="n78"><rect class="p" x="178" y="912" width="42" height="12" rx="6"/><text class="pt" x="199" y="921">1-compl</text><line class="a" x1="220" y1="918" x2="224" y2="918"/><rect class="b" x="230" y="909.5" width="58" height="17"/><text class="bt" x="236" y="921.5">RETURN</text><text class="t" x="294" y="921.5">S,SG</text></g>
<g id="n79"><rect class="p" x="245" y="933" width="40" height="12" rx="6"/><text class="pt" x="265" y="942">coordin</text><line class="a" x1="285" y1="939" x2="289" y2="939"/><rect class="b" x="295" y="930.5" width="30" height="17"/><text class="bt" x="301" y="942.5">OR</text><text class="t" x="331" y="942.5">CONJ</text></g>
<g id="n80"><rect class="p" x="458" y="954" width="42" height="12" rx="6"/><text class="pt" x="479" y="963">compos</text><line class="a" x1="500" y1="960" x2="504" y2="960"/><rect class="b" x="510" y="951.5" width="34" height="17"/><text class="bt" x="516" y="963.5">USA</text></g>
<g id="n81"><rect class="p" x="391" y="974" width="42" height="12" rx="6"/><text class="pt" x="412" y="983">compos</text><line class="a" x1="433" y1="980" x2="437" y2="980"/><rect class="b" x="443" y="971.5" width="58" height="17"/><text class="bt" x="449" y="983.5">CITIZEN</text><text class="t" x="507" y="983.5">S,PL</text></g>
<g id="n82"><rect class="p" x="305" y="995" width="52" height="12" rx="6"/><text class="pt" x="331" y="1004">coord-conj</text><line class="a" x1="357" y1="1001" x2="361" y2="1001"/><rect class="b" x="367" y="992.5" width="50" height="17"/><text class="bt" x="373" y="1004.5">LIVING</text><text class="t" x="423" y="1004.5">S,SG</text></g>
<g id="n83"><rect x="525" y="990.5" width="60" height="17" fill="#c4c4c4" stroke="#555" stroke-width=".8"/><text class="bt" x="531" y="1002.5">ABROAD</text></g>
<g id="n84"><rect class="p" x="103" y="1057" width="38" height="12" rx="6"/><text class="pt" x="122" y="1066">predic</text><line class="a" x1="141" y1="1063" x2="144" y2="1063"/><rect class="b" x="150" y="1054.5" width="22" height="17"/><text class="bt" x="158" y="1066.5">I</text><text class="t" x="177" y="1066.5">S,NOM,SG</text></g>
<g id="n85"><circle class="c" cx="72" cy="1083" r="6"/><line class="a" x1="78" y1="1083" x2="80" y2="1083"/><rect class="b" x="86" y="1074.5" width="34" height="17"/><text class="bt" x="93" y="1086.5">BE</text><text class="t" x="126" y="1086.5">V,PRS,SG,FIN,QFIN,FP</text></g>
<g id="n86"><rect class="p" x="171" y="1098" width="40" height="12" rx="6"/><text class="pt" x="191" y="1107">determ</text><line class="a" x1="211" y1="1104" x2="212" y2="1104"/><rect class="b" x="218" y="1095.5" width="36" height="17"/><text class="bt" x="224" y="1107.5">AN</text><text class="t" x="260" y="1107.5">ART</text></g>
<g id="n87"><rect class="p" x="239" y="1118" width="42" height="12" rx="6"/><text class="pt" x="260" y="1127">compos</text><line class="a" x1="281" y1="1124" x2="284" y2="1124"/><rect class="b" x="290" y="1115.5" width="38" height="17"/><text class="bt" x="297" y="1127.5">USA</text><text class="t" x="334" y="1127.5">S,PL</text></g>
<g id="n88"><rect class="p" x="171" y="1139" width="42" height="12" rx="6"/><text class="pt" x="192" y="1148">compos</text><line class="a" x1="213" y1="1145" x2="216" y2="1145"/><rect class="b" x="222" y="1136.5" width="58" height="17"/><text class="bt" x="229" y="1148.5">CITIZEN</text><text class="t" x="286" y="1148.5">S,SG</text></g>
<g id="n89"><rect class="p" x="103" y="1160" width="42" height="12" rx="6"/><text class="pt" x="124" y="1169">copulat</text><line class="a" x1="145" y1="1166" x2="148" y2="1166"/><rect class="b" x="154" y="1157.5" width="50" height="17"/><text class="bt" x="161" y="1169.5">LIVING</text><text class="t" x="210" y="1169.5">S,SG</text></g>
<g id="n90"><rect class="p" x="171" y="1180" width="34" height="12" rx="6"/><text class="pt" x="188" y="1189">attrib</text><line class="a" x1="205" y1="1186" x2="206" y2="1186"/><rect class="b" x="211" y="1177.5" width="60" height="17"/><text class="bt" x="218" y="1189.5">ABROAD</text><text class="t" x="277" y="1189.5">ADV</text></g>
<g id="n91"><rect class="p" x="103" y="1201" width="40" height="12" rx="6"/><text class="pt" x="123" y="1210">coordin</text><line class="a" x1="143" y1="1207" x2="147" y2="1207"/><rect class="b" x="153" y="1198.5" width="40" height="17"/><text class="bt" x="160" y="1210.5">AND</text><text class="t" x="199" y="1210.5">CONJ</text></g>
<g id="n92"><rect class="p" x="171" y="1221" width="52" height="12" rx="6"/><text class="pt" x="197" y="1230">coord-conj</text><line class="a" x1="223" y1="1227" x2="227" y2="1227"/><rect class="b" x="233" y="1218.5" width="68" height="17"/><text class="bt" x="240" y="1230.5">CONCERN</text><text class="t" x="307" y="1230.5">V,PST,FIN,QFIN</text></g>
<g id="n93"><rect class="p" x="250" y="1242" width="40" height="12" rx="6"/><text class="pt" x="270" y="1251">adverb</text><line class="a" x1="290" y1="1248" x2="292" y2="1248"/><rect class="b" x="298" y="1239.5" width="56" height="17"/><text class="bt" x="305" y="1251.5">ABOUT</text><text class="t" x="360" y="1251.5">ADV</text></g>
<g id="n94"><rect class="p" x="318" y="1263" width="40" height="12" rx="6"/><text class="pt" x="338" y="1272">determ</text><line class="a" x1="358" y1="1269" x2="360" y2="1269"/><rect class="b" x="366" y="1260.5" width="38" height="17"/><text class="bt" x="373" y="1272.5">THE</text><text class="t" x="410" y="1272.5">ART</text></g>
<g id="n95"><rect class="p" x="387" y="1283" width="42" height="12" rx="6"/><text class="pt" x="408" y="1292">compos</text><line class="a" x1="429" y1="1289" x2="433" y2="1289"/><rect class="b" x="439" y="1280.5" width="54" height="17"/><text class="bt" x="446" y="1292.5">HEALTH</text><text class="t" x="499" y="1292.5">S,SG</text></g>
<g id="n96"><rect class="p" x="136" y="1283" width="38" height="12" rx="6"/><text class="pt" x="155" y="1292">predic</text><line class="a" x1="174" y1="1289" x2="176" y2="1289"/><rect class="b" x="182" y="1280.5" width="22" height="17"/><text class="bt" x="190" y="1292.5">I</text></g>
<g id="n97"><rect class="p" x="318" y="1304" width="42" height="12" rx="6"/><text class="pt" x="339" y="1313">compos</text><line class="a" x1="360" y1="1310" x2="364" y2="1310"/><rect class="b" x="370" y="1301.5" width="62" height="17"/><text class="bt" x="377" y="1313.5">REFORM</text><text class="t" x="438" y="1313.5">S,SG</text></g>
<g id="n98"><circle class="c" cx="103" cy="1310" r="6"/><line class="a" x1="109" y1="1310" x2="113" y2="1310"/><rect class="b" x="119" y="1301.5" width="38" height="17"/><text class="bt" x="126" y="1313.5">DO</text><text class="t" x="163" y="1313.5">V,FIN,MF,QFIN</text></g>
<g id="n99"><rect class="p" x="250" y="1325" width="42" height="12" rx="6"/><text class="pt" x="271" y="1334">1-compl</text><line class="a" x1="292" y1="1331" x2="296" y2="1331"/><rect class="b" x="302" y="1322.5" width="74" height="17"/><text class="bt" x="309" y="1334.5">REGULATION</text><text class="t" x="382" y="1334.5">S,SG</text></g>
<g id="n100"><rect class="p" x="136" y="1325" width="28" height="12" rx="6"/><text class="pt" x="150" y="1334">restr</text><line class="a" x1="164" y1="1331" x2="168" y2="1331"/><rect class="b" x="174" y="1322.5" width="40" height="17"/><text class="bt" x="181" y="1334.5">NOT</text><text class="t" x="220" y="1334.5">ADV</text></g>
<g id="n101"><rect class="p" x="313" y="1345" width="42" height="12" rx="6"/><text class="pt" x="334" y="1354">1-compl</text><line class="a" x1="355" y1="1351" x2="359" y2="1351"/><rect class="b" x="365" y="1342.5" width="34" height="17"/><text class="bt" x="372" y="1354.5">OF</text><text class="t" x="405" y="1354.5">PR</text></g>
<g id="n102"><rect class="p" x="129" y="1345" width="36" height="12" rx="6"/><text class="pt" x="147" y="1354">analyt</text><line class="a" x1="165" y1="1351" x2="169" y2="1351"/><rect class="b" x="175" y="1342.5" width="44" height="17"/><text class="bt" x="182" y="1354.5">WANT</text><text class="t" x="225" y="1354.5">V,MF</text></g>
<g id="n103"><rect class="p" x="385" y="1366" width="40" height="12" rx="6"/><text class="pt" x="405" y="1375">prepos</text><line class="a" x1="425" y1="1372" x2="429" y2="1372"/><rect class="b" x="435" y="1363.5" width="40" height="17"/><text class="bt" x="442" y="1375.5">2014</text><text class="t" x="481" y="1375.5">NUM,SG</text></g>
<g id="n104"><rect class="p" x="188" y="1366" width="42" height="12" rx="6"/><text class="pt" x="209" y="1375">1-compl</text><line class="a" x1="230" y1="1372" x2="234" y2="1372"/><rect class="b" x="240" y="1363.5" width="36" height="17"/><text class="bt" x="247" y="1375.5">TO</text><text class="t" x="282" y="1375.5">PART</text></g>
<g id="n105"><rect class="p" x="255" y="1386" width="40" height="12" rx="6"/><text class="pt" x="275" y="1395">prepos</text><line class="a" x1="295" y1="1392" x2="299" y2="1392"/><rect class="b" x="305" y="1383.5" width="42" height="17"/><text class="bt" x="312" y="1395.5">WAIT</text><text class="t" x="353" y="1395.5">V,MF</text></g>
<g id="n106"><rect class="p" x="330" y="1407" width="40" height="12" rx="6"/><text class="pt" x="350" y="1416">adverb</text><line class="a" x1="370" y1="1413" x2="374" y2="1413"/><rect class="b" x="380" y="1404.5" width="38" height="17"/><text class="bt" x="387" y="1416.5">TILL</text><text class="t" x="424" y="1416.5">CONJ</text></g>
<g id="n107"><rect class="p" x="494" y="1428" width="38" height="12" rx="6"/><text class="pt" x="513" y="1437">predic</text><line class="a" x1="532" y1="1434" x2="536" y2="1434"/><rect class="b" x="542" y="1425.5" width="24" height="17"/><text class="bt" x="551" y="1437.5">I</text><text class="t" x="572" y="1437.5">S,NOM,SG</text></g>
<g id="n108"><rect class="p" x="394" y="1448" width="56" height="12" rx="6"/><text class="pt" x="422" y="1457">subord-conj</text><line class="a" x1="450" y1="1454" x2="454" y2="1454"/><rect class="b" x="460" y="1445.5" width="32" height="17"/><text class="bt" x="467" y="1457.5">BE</text><text class="t" x="498" y="1457.5">V,PRS,SG,FIN,QFIN,FP</text></g>
<g id="n109"><rect class="p" x="478" y="1469" width="42" height="12" rx="6"/><text class="pt" x="499" y="1478">copulat</text><line class="a" x1="520" y1="1475" x2="524" y2="1475"/><rect class="b" x="530" y="1466.5" width="38" height="17"/><text class="bt" x="537" y="1478.5">SICK</text><text class="t" x="574" y="1478.5">A</text></g>
<g id="n110"><rect class="p" x="480" y="1490" width="40" height="12" rx="6"/><text class="pt" x="500" y="1499">adverb</text><line class="a" x1="520" y1="1496" x2="524" y2="1496"/><rect class="b" x="530" y="1487.5" width="36" height="17"/><text class="bt" x="537" y="1499.5">TO</text><text class="t" x="572" y="1499.5">PART</text></g>
<g id="n111"><rect class="p" x="545" y="1510" width="40" height="12" rx="6"/><text class="pt" x="565" y="1519">prepos</text><line class="a" x1="585" y1="1516" x2="589" y2="1516"/><rect class="b" x="595" y="1507.5" width="38" height="17"/><text class="bt" x="602" y="1519.5">BUY</text><text class="t" x="639" y="1519.5">V,MF</text></g>
<g id="n112"><rect class="p" x="685" y="1531" width="42" height="12" rx="6"/><text class="pt" x="706" y="1540">compos</text><line class="a" x1="727" y1="1537" x2="731" y2="1537"/><rect class="b" x="737" y="1528.5" width="54" height="17"/><text class="bt" x="744" y="1540.5">HEALTH</text></g>
<g id="n113"><rect class="p" x="611" y="1552" width="42" height="12" rx="6"/><text class="pt" x="632" y="1561">1-compl</text><line class="a" x1="653" y1="1558" x2="657" y2="1558"/><rect class="b" x="663" y="1549.5" width="62" height="17"/><text class="bt" x="670" y="1561.5">INSURANCE</text><text class="t" x="731" y="1561.5">S,SG</text></g>
<g id="n114"><rect class="p" x="535" y="1057" width="38" height="12" rx="6"/><text class="pt" x="554" y="1066">predic</text><line class="a" x1="573" y1="1063" x2="577" y2="1063"/><rect class="b" x="583" y="1054.5" width="22" height="17"/><text class="bt" x="591" y="1066.5">I</text><text class="t" x="611" y="1066.5">S,NOM,SG</text></g>
<g id="n115"><rect class="pf" x="478" y="1077" width="32" height="12" rx="6"/><text class="pt" x="494" y="1086">fictit</text><line class="a" x1="510" y1="1083" x2="514" y2="1083"/><rect class="b" x="520" y="1074.5" width="34" height="17"/><text class="bt" x="527" y="1086.5">BE</text><text class="t" x="560" y="1086.5">V,PRS,SG,FIN,QFIN,FP</text></g>
<g id="n116"><circle class="c" cx="473" cy="1104" r="6"/><line class="a" x1="479" y1="1104" x2="482" y2="1104"/><rect class="b" x="488" y="1095.5" width="58" height="17"/><text class="bt" x="495" y="1107.5">AFRAID</text><text class="t" x="552" y="1107.5">A</text></g>
<g id="n117"><rect class="p" x="535" y="1118" width="38" height="12" rx="6"/><text class="pt" x="554" y="1127">predic</text><line class="a" x1="573" y1="1124" x2="577" y2="1124"/><rect class="b" x="583" y="1115.5" width="22" height="17"/><text class="bt" x="591" y="1127.5">I</text><text class="t" x="611" y="1127.5">S,NOM,SG</text></g>
<g id="n118"><rect class="pf" x="528" y="1139" width="32" height="12" rx="6"/><text class="pt" x="544" y="1148">fictit</text><line class="a" x1="560" y1="1145" x2="564" y2="1145"/><rect class="b" x="570" y="1136.5" width="48" height="17"/><text class="bt" x="577" y="1148.5">WILL</text><text class="t" x="624" y="1148.5">S,SG</text></g>
<g id="n119"><rect class="pf" x="473" y="1160" width="32" height="12" rx="6"/><text class="pt" x="489" y="1169">fictit</text><line class="a" x1="505" y1="1166" x2="509" y2="1166"/><rect class="b" x="515" y="1157.5" width="44" height="17"/><text class="bt" x="522" y="1169.5">END</text><text class="t" x="565" y="1169.5">V,MF</text></g>
<g id="n120"><rect class="p" x="540" y="1180" width="40" height="12" rx="6"/><text class="pt" x="560" y="1189">adverb</text><line class="a" x1="580" y1="1186" x2="584" y2="1186"/><rect class="b" x="590" y="1177.5" width="36" height="17"/><text class="bt" x="597" y="1189.5">UP</text><text class="t" x="632" y="1189.5">ADV</text></g>
<g id="n121"><rect class="p" x="543" y="1201" width="42" height="12" rx="6"/><text class="pt" x="564" y="1210">1-compl</text><line class="a" x1="585" y1="1207" x2="589" y2="1207"/><rect class="b" x="595" y="1198.5" width="40" height="17"/><text class="bt" x="602" y="1210.5">PAY</text><text class="t" x="641" y="1210.5">V,ING</text></g>
<g id="n122"><rect class="p" x="672" y="1221" width="40" height="12" rx="6"/><text class="pt" x="692" y="1230">determ</text><line class="a" x1="712" y1="1227" x2="716" y2="1227"/><rect class="b" x="722" y="1218.5" width="36" height="17"/><text class="bt" x="729" y="1230.5">THE</text><text class="t" x="764" y="1230.5">ART</text></g>
<g id="n123"><rect class="p" x="600" y="1242" width="42" height="12" rx="6"/><text class="pt" x="621" y="1251">1-compl</text><line class="a" x1="642" y1="1248" x2="646" y2="1248"/><rect class="b" x="652" y="1239.5" width="40" height="17"/><text class="bt" x="659" y="1251.5">TAX</text><text class="t" x="698" y="1251.5">S,SG</text></g>
</g>
<g id="annotations">
<path class="g" d="M10,590 C5,560 60,548 140,552 C230,556 270,580 310,620 C340,650 385,650 382,685 C378,712 330,717 280,712 C240,710 200,700 150,712 C80,730 40,780 35,850 C32,900 50,950 70,990 C90,1012 200,1020 400,1020 C550,1018 600,1010 595,975 C590,940 520,918 470,930 C420,945 330,975 300,1000"/>
<path class="g" d="M10,590 C0,650 0,800 8,900 C14,960 25,1000 40,1015"/>
<path class="g" d="M330,1022 L315,1066"/>
<path class="g" d="M30,1090 C60,1060 200,1058 315,1066 C345,1075 360,1140 385,1185 C410,1215 440,1225 470,1250 C500,1280 520,1300 515,1318 L370,1318 C300,1300 250,1260 135,1250 C100,1240 70,1200 45,1150 C30,1120 25,1100 30,1090Z"/>
<path class="rd" d="M70,40 C75,130 95,200 118,272"/>
<path class="rd" d="M66,40 C60,150 100,300 120,400 C140,480 160,540 130,590 C115,605 100,610 90,612"/>
<path class="r" d="M332,163 C340,200 370,230 420,228 L462,224"/>
<path class="r" d="M332,163 L322,378"/>
<path class="r" d="M300,350 C380,300 450,300 462,360 C470,420 465,480 462,500"/>
<path class="r" d="M850,243 C800,320 700,380 600,418 L232,672"/>
<path class="r" d="M330,515 C420,540 600,505 850,492"/>
<path class="r" d="M700,495 C740,620 810,700 850,770 L850,830 C700,850 480,730 380,668"/>
<path class="r" d="M425,642 C550,645 700,645 715,660 C725,680 650,685 560,692"/>
<path class="r" d="M80,575 C60,650 20,760 15,850 C15,900 40,925 150,940 C300,955 400,962 445,968"/>
<path class="r" d="M165,708 C200,760 260,840 298,890"/>
<path class="rd" d="M32,625 C45,680 90,740 150,757 C200,770 260,765 302,765"/>
<path class="r" d="M583,1075 L170,1075 C120,1120 80,1160 87,1190 C95,1220 140,1240 202,1285"/>
<path class="rd" d="M488,1110 C450,1140 380,1190 300,1228"/>
<path class="rd" d="M237,1235 C222,1300 228,1400 255,1430 C300,1480 400,1495 460,1462"/>
<path class="rd" d="M518,1175 C530,1250 545,1320 520,1348 C490,1370 410,1362 370,1358"/>
<path class="r" d="M590,1214 C575,1300 565,1400 560,1426"/>
<path class="r" d="M600,1068 C610,1085 612,1100 600,1120"/>
<path class="r" d="M600,1130 C720,1170 855,1220 850,1300 C845,1380 650,1400 560,1430"/>
<path class="r" d="M500,1296 L760,1560 L745,1558"/>
<text class="rl" x="98" y="173">RST-contrast</text>
<text class="rl" x="346" y="251">RST elaboration</text>
<text class="rl" x="340" y="275">sub-entity</text>
<text class="rl" x="342" y="317">RST time sequence</text>
<text class="rl" x="118" y="402">CA</text>
<text class="rl" x="737" y="330">same entity</text>
<text class="rl" x="354" y="549">sub-entity</text>
<text class="rl" x="196" y="620">same entity</text>
<text class="rl" x="160" y="600">CA</text>
<text class="rl" x="600" y="632">RST time sequence</text>
<text class="rl" x="760" y="690">same entity</text>
<text class="rl" x="38" y="758">RST-condition</text>
<text class="rl" x="195" y="804">sub-entity</text>
<text class="rl" x="580" y="825">same entity</text>
<text class="rl" x="36" y="921">sub-entity</text>
<text class="rl" x="245" y="1063">same entity</text>
<text class="rl" x="333" y="1172">CA</text>
<text class="rl" x="65" y="1260">same entity</text>
<text class="rl" x="227" y="1295">CA</text>
<text class="rl" x="447" y="1340">RST-consequence</text>
<text class="rl" x="581" y="1292">sub-entity</text>
<text class="rl" x="697" y="1344">same entity</text>
<text class="rl" x="718" y="1452">same entity</text>
<text class="rl" x="333" y="1513">RST-time sequence</text>
</g>
</g>
</svg>
